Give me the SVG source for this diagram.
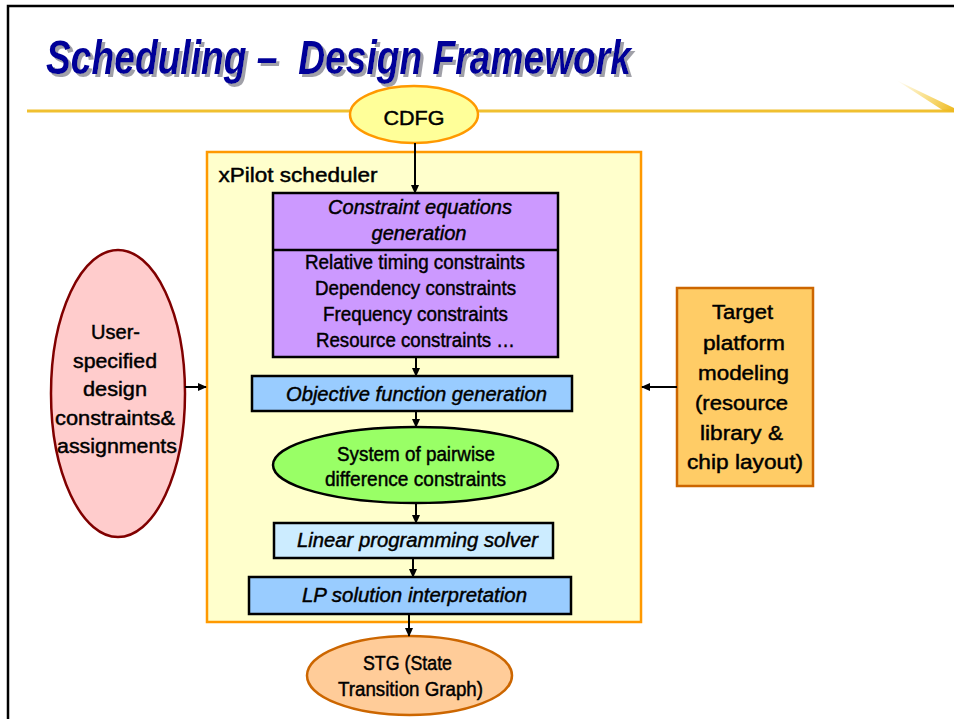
<svg xmlns="http://www.w3.org/2000/svg" width="954" height="719" viewBox="0 0 954 719">
  <style>
    .t { font-family: "Liberation Sans", Arial, sans-serif; font-size: 20px; fill: #000; text-anchor: middle; stroke: #000; stroke-width: 0.45px; }
    .it { font-style: italic; }
    .box { stroke: #000; stroke-width: 2.5; }
    .conn { stroke: #000; stroke-width: 2; fill: none; marker-end: url(#arrow); }
    .title { font-family: "Liberation Sans", Arial, sans-serif; font-size: 49px; font-weight: bold; font-style: italic; fill: #000099; white-space: pre; }
  </style>
  <defs>
    <marker id="arrow" markerUnits="userSpaceOnUse" markerWidth="9" markerHeight="8" refX="8" refY="4" orient="auto">
      <path d="M0,0 L9,4 L0,8 z" fill="#000"/>
    </marker>
    <linearGradient id="swoosh" x1="896" y1="80" x2="954" y2="111" gradientUnits="userSpaceOnUse">
      <stop offset="0" stop-color="#F5C933" stop-opacity="0"/>
      <stop offset="0.5" stop-color="#F5C933" stop-opacity="0.55"/>
      <stop offset="1" stop-color="#EDB820"/>
    </linearGradient>
    <!-- grey drop shadow behind the heading -->
    <filter id="dropShadow" x="-5%" y="-20%" width="110%" height="150%">
      <feOffset in="SourceAlpha" dx="3" dy="3" result="off"/>
      <feFlood flood-color="#A0A0A8"/>
      <feComposite in2="off" operator="in" result="shadow"/>
      <feMerge>
        <feMergeNode in="shadow"/>
        <feMergeNode in="SourceGraphic"/>
      </feMerge>
    </filter>
  </defs>

  <rect width="954" height="719" fill="#fff"/>

  <!-- slide frame -->
  <path d="M8,719 V6 H954" fill="none" stroke="#000" stroke-width="2.5"/>

  <!-- heading -->
  <text class="title" x="46" y="74" xml:space="preserve" textLength="585" lengthAdjust="spacingAndGlyphs" filter="url(#dropShadow)">Scheduling –  Design Framework</text>

  <!-- gold rule with swoosh -->
  <line x1="27" y1="111" x2="954" y2="111" stroke="#F0C030" stroke-width="3"/>
  <polygon points="896,80 954,108 954,112 944,111" fill="url(#swoosh)"/>

  <!-- scheduler container -->
  <g id="xpilot-scheduler">
    <rect x="207" y="152" width="434" height="470" fill="#FFFFCC" stroke="#FF9900" stroke-width="2.5"/>
    <text class="t" x="298" y="182" font-size="22" textLength="159" lengthAdjust="spacingAndGlyphs">xPilot scheduler</text>
  </g>

  <g id="cdfg">
    <ellipse cx="414" cy="114.5" rx="64" ry="28.5" fill="#FFFF99" stroke="#FF9900" stroke-width="2.5"/>
    <text class="t" x="414" y="125" font-size="25" textLength="61" lengthAdjust="spacingAndGlyphs">CDFG</text>
  </g>

  <g id="constraint-generation">
    <rect class="box" x="273" y="193" width="285" height="164" fill="#CC99FF"/>
    <line x1="273" y1="250" x2="558" y2="250" stroke="#000" stroke-width="2.5"/>
    <text class="t it" x="420" y="214" font-size="21" textLength="184" lengthAdjust="spacingAndGlyphs">Constraint equations</text>
    <text class="t it" x="419" y="240" font-size="21" textLength="95" lengthAdjust="spacingAndGlyphs">generation</text>
    <text class="t" x="415" y="269" textLength="220" lengthAdjust="spacingAndGlyphs">Relative timing constraints</text>
    <text class="t" x="415.5" y="295" textLength="201" lengthAdjust="spacingAndGlyphs">Dependency constraints</text>
    <text class="t" x="415.5" y="321" textLength="185" lengthAdjust="spacingAndGlyphs">Frequency constraints</text>
    <text class="t" x="415.5" y="347" textLength="199" lengthAdjust="spacingAndGlyphs">Resource constraints …</text>
  </g>

  <g id="objective-function">
    <rect class="box" x="252" y="376" width="320" height="35" fill="#99CCFF"/>
    <text class="t it" x="416.5" y="401" font-size="21" textLength="261" lengthAdjust="spacingAndGlyphs">Objective function generation</text>
  </g>

  <g id="pairwise-constraints">
    <ellipse class="box" cx="415.5" cy="465" rx="142.5" ry="38" fill="#99FF66"/>
    <text class="t" x="416" y="461" textLength="158" lengthAdjust="spacingAndGlyphs">System of pairwise</text>
    <text class="t" x="415.5" y="486" textLength="181" lengthAdjust="spacingAndGlyphs">difference constraints</text>
  </g>

  <g id="lp-solver">
    <rect class="box" x="274" y="523" width="279" height="35" fill="#CCECFF"/>
    <text class="t it" x="417.5" y="547" font-size="21" textLength="241" lengthAdjust="spacingAndGlyphs">Linear programming solver</text>
  </g>

  <g id="lp-interpretation">
    <rect class="box" x="249" y="577" width="322" height="37" fill="#99CCFF"/>
    <text class="t it" x="414.5" y="602" font-size="21" textLength="225" lengthAdjust="spacingAndGlyphs">LP solution interpretation</text>
  </g>

  <g id="stg">
    <ellipse cx="409.5" cy="675.5" rx="102.5" ry="39.5" fill="#FFCC99" stroke="#CC6600" stroke-width="2.5"/>
    <text class="t" x="407.5" y="670" font-size="21" textLength="89" lengthAdjust="spacingAndGlyphs">STG (State</text>
    <text class="t" x="410.5" y="696" font-size="21" textLength="145" lengthAdjust="spacingAndGlyphs">Transition Graph)</text>
  </g>

  <g id="user-constraints">
    <ellipse cx="118" cy="393.5" rx="67" ry="143.5" fill="#FFCCCC" stroke="#800000" stroke-width="2.5"/>
    <text class="t" x="115.5" y="339" font-size="22" textLength="49" lengthAdjust="spacingAndGlyphs">User-</text>
    <text class="t" x="115" y="367.5" font-size="22" textLength="84" lengthAdjust="spacingAndGlyphs">specified</text>
    <text class="t" x="115" y="396" font-size="22" textLength="64" lengthAdjust="spacingAndGlyphs">design</text>
    <text class="t" x="115" y="424.5" font-size="22" textLength="120" lengthAdjust="spacingAndGlyphs">constraints&amp;</text>
    <text class="t" x="117" y="453" font-size="22" textLength="120" lengthAdjust="spacingAndGlyphs">assignments</text>
  </g>

  <g id="target-platform">
    <rect x="677" y="288" width="136" height="198" fill="#FFCC66" stroke="#CC6600" stroke-width="2.5"/>
    <text class="t" x="742.5" y="319" font-size="23" textLength="61" lengthAdjust="spacingAndGlyphs">Target</text>
    <text class="t" x="744" y="349.5" font-size="23" textLength="82" lengthAdjust="spacingAndGlyphs">platform</text>
    <text class="t" x="743.5" y="379.5" font-size="23" textLength="91" lengthAdjust="spacingAndGlyphs">modeling</text>
    <text class="t" x="741.5" y="409.5" font-size="23" textLength="93" lengthAdjust="spacingAndGlyphs">(resource</text>
    <text class="t" x="741.5" y="439.5" font-size="23" textLength="83" lengthAdjust="spacingAndGlyphs">library &amp;</text>
    <text class="t" x="745" y="469" font-size="23" textLength="116" lengthAdjust="spacingAndGlyphs">chip layout)</text>
  </g>

  <g id="connectors">
    <line class="conn" x1="415" y1="143" x2="415" y2="193"/>
    <line class="conn" x1="416" y1="358" x2="416" y2="376"/>
    <line class="conn" x1="416" y1="412" x2="416" y2="427"/>
    <line class="conn" x1="416" y1="504" x2="416" y2="523"/>
    <line class="conn" x1="413" y1="559" x2="413" y2="577"/>
    <line class="conn" x1="409" y1="615" x2="409" y2="636"/>
    <line class="conn" x1="185" y1="387" x2="206" y2="387"/>
    <line class="conn" x1="677" y1="387" x2="642" y2="387"/>
  </g>
</svg>
